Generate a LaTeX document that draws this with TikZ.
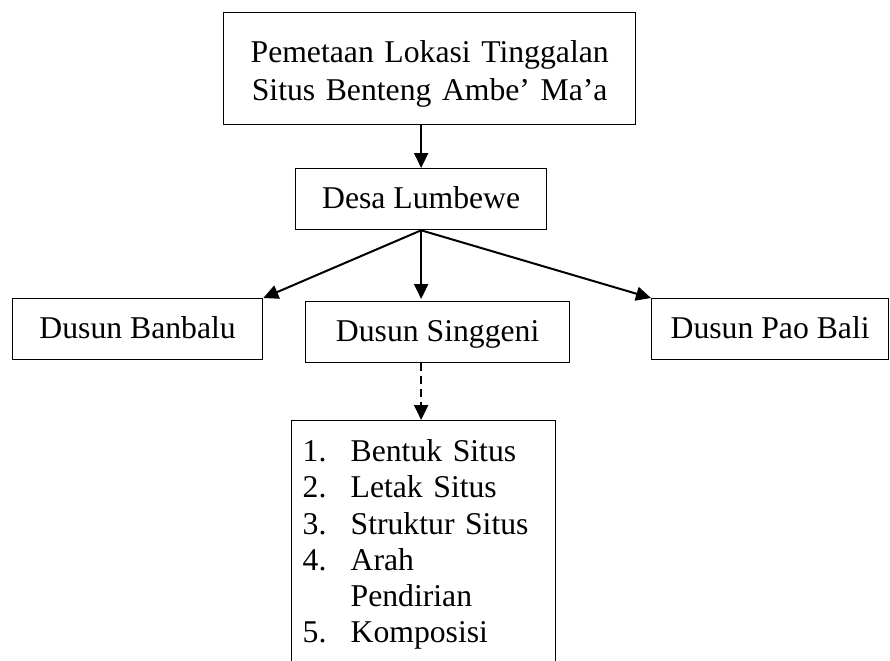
\documentclass[tikz,border=0pt]{standalone}
\usepackage{fontspec}
\setmainfont{Liberation Serif}
\usetikzlibrary{arrows.meta}
\begin{document}
\begin{tikzpicture}[x=0.5pt,y=-0.5pt,font=\fontsize{15.85}{18.1}\selectfont]
    \tikzstyle{box} = [draw,line width=.65pt,inner sep=0pt,anchor=north west,
                       text height=20pt,text depth=10.5pt]
    \tikzstyle{arr} = [arrows=-{Triangle[length=7.5pt,width=7pt]},line width=1pt]
    \clip (0,0) rectangle (890,660);
    \node[box,minimum width=206pt,text width=206pt,align=center,
          text height=25pt,text depth=31pt,
          font=\fontsize{15.85}{18.8}\selectfont] (lokasi) at (223,12)
        {Pemetaan Lokasi Tinggalan\\Situs Benteng Ambe’ Ma’a};
    \node[box,minimum width=125.5pt] (desa) at (295,168) {Desa Lumbewe};
    \node[box,minimum width=125pt] (banbalu) at (12,298) {Dusun Banbalu};
    \node[box,minimum width=132pt] (singgeni) at (305,301) {Dusun Singgeni};
    \node[box,minimum width=118.5pt] (paobali) at (651,298) {Dusun Pao Bali};
    \node[box,text width=121pt,inner xsep=5.5pt,align=left,
          text height=20.5pt,text depth=110pt] (aspek) at (291,420)
        {\makebox[24pt][l]{1.}Bentuk Situs\\
         \makebox[24pt][l]{2.}Letak Situs\\
         \makebox[24pt][l]{3.}Struktur Situs\\
         \makebox[24pt][l]{4.}Arah\\
         \hspace*{24pt}Pendirian\\
         \makebox[24pt][l]{5.}Komposisi};
    \draw[arr] (desa.north |- lokasi.south)--(desa.north);
    \draw[arr] (desa.south)--(banbalu.north east);
    \draw[arr,shorten >=1pt] (desa.south)--(desa.south |- singgeni.north);
    \draw[arr] (desa.south)--(paobali.north west);
    \draw[arr,dash pattern=on 4pt off 2.5pt] (desa.south |- singgeni.south)
        --(desa.south |- aspek.north);
\end{tikzpicture}
\end{document}
